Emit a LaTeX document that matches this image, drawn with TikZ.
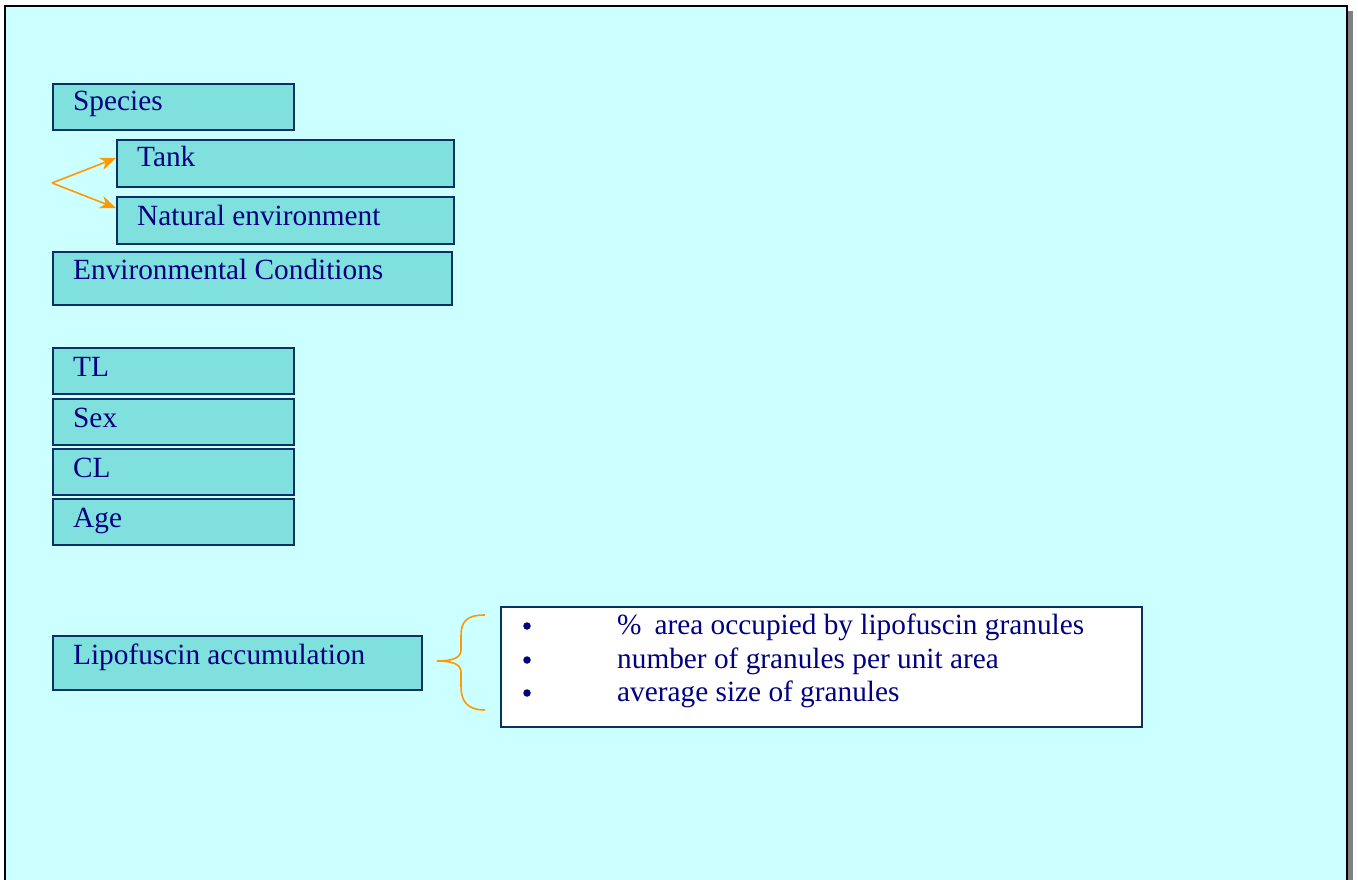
\documentclass[tikz,border=0pt]{standalone}
\usepackage{fontspec}
\setmainfont{Liberation Serif}
\usetikzlibrary{arrows.meta,calc}
\definecolor{bgcyan}{HTML}{CCFFFF}
\definecolor{boxfill}{HTML}{80E0DD}
\definecolor{boxline}{HTML}{0A3164}
\definecolor{navytext}{HTML}{000080}
\definecolor{forkorange}{HTML}{FF9900}
\definecolor{shadowgray}{HTML}{808080}
\begin{document}
\begin{tikzpicture}[x=1pt,y=-1pt,
  factorbox/.style={draw=boxline, fill=boxfill, line width=2pt, rectangle,
    inner sep=0pt, anchor=north west},
  listbox/.style={draw=boxline, fill=white, line width=1.8pt, rectangle,
    inner sep=0pt, anchor=north west},
  label/.style={anchor=base west, text=navytext, inner sep=0pt,
    font=\fontsize{29.3}{34}\selectfont},
  itemtext/.style={anchor=base west, text=navytext, inner sep=0pt,
    font=\fontsize{29.3}{34}\selectfont},
  bulletmark/.style={circle, fill=navytext, inner sep=0pt, minimum size=7.5pt},
  forkarrow/.style={draw=forkorange, line width=1.6pt,
    -{Stealth[length=16pt,width=13pt,inset=5pt]}},
  brace/.style={draw=forkorange, line width=1.6pt}]
  \useasboundingbox (0,0) rectangle (1358,880);

  % slide frame with drop shadow
  \fill[shadowgray] (11,11) rectangle (1353,890);
  \draw[fill=bgcyan, line width=2pt] (5,6) rectangle (1347,886);

  % factor boxes
  \node[factorbox, minimum width=241, minimum height=46] (species) at (52,83) {};
  \node[factorbox, minimum width=337, minimum height=47] (tank) at (116,139) {};
  \node[factorbox, minimum width=337, minimum height=47] (natural) at (116,196) {};
  \node[factorbox, minimum width=399, minimum height=53] (envcond) at (52,251) {};
  \node[factorbox, minimum width=241, minimum height=46] (tl) at (52,347) {};
  \node[factorbox, minimum width=241, minimum height=46] (sex) at (52,398) {};
  \node[factorbox, minimum width=241, minimum height=46] (cl) at (52,448) {};
  \node[factorbox, minimum width=241, minimum height=46] (age) at (52,498) {};
  \node[factorbox, minimum width=369, minimum height=54] (lipo) at (52,635) {};

  \node[label] (speciesT) at (73,111) {Species};
  \node[label] (tankT) at (137,167) {Tank};
  \node[label] (naturalT) at (137,225) {Natural environment};
  \node[label] (envcondT) at (73,279) {Environmental Conditions};
  \node[label] (tlT) at (73,376) {TL};
  \node[label] (sexT) at (73,427) {Sex};
  \node[label] (clT) at (73,477) {CL};
  \node[label] (ageT) at (73,527) {Age};
  \node[label] (lipoT) at (73,664) {Lipofuscin accumulation};

  % fork towards the two environments
  \coordinate (fork) at (52,183);
  \draw[forkarrow] (fork) -- ($(tank.north west)+(0,19)$);
  \draw[forkarrow] (fork) -- ($(natural.north west)+(0,12)$);

  % measured quantities
  \node[listbox, minimum width=641, minimum height=120] (measures) at (500,606) {};
  \node[bulletmark] (b1) at (527,626) {};
  \node[bulletmark] (b2) at (527,660) {};
  \node[bulletmark] (b3) at (527,693) {};
  \node[itemtext] (m1) at (617,634) {\%\hspace{13pt}area occupied by lipofuscin granules};
  \node[itemtext] (m2) at (617,668) {number of granules per unit area};
  \node[itemtext] (m3) at (617,701) {average size of granules};

  % curly brace linking accumulation to its measures
  \coordinate (btop) at (485,615);
  \coordinate (btip) at (437,661);
  \coordinate (bbot) at (485,710);
  \draw[brace] (btop) .. controls (466,615) and (461,622) .. (461,636)
    -- (461,650) .. controls (461,658) and (452,661) .. (btip)
    .. controls (452,661) and (461,664) .. (461,672)
    -- (461,686) .. controls (461,700) and (466,710) .. (bbot);
\end{tikzpicture}
\end{document}
